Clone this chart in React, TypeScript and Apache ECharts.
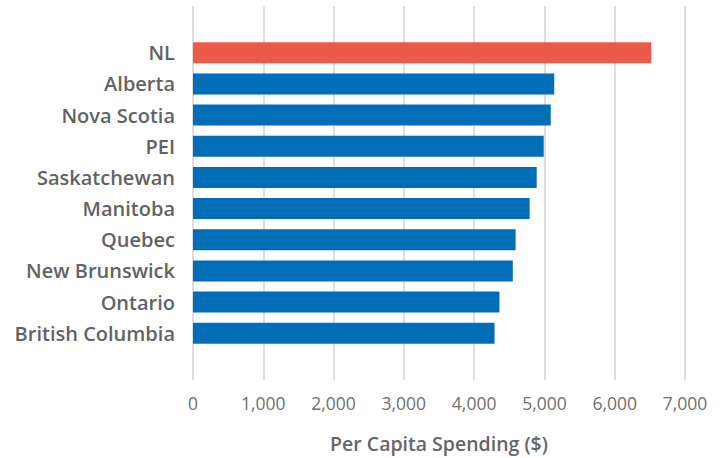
import React, { useEffect, useRef } from "react";
import * as echarts from "echarts";

const provinces = [
  "NL",
  "Alberta",
  "Nova Scotia",
  "PEI",
  "Saskatchewan",
  "Manitoba",
  "Quebec",
  "New Brunswick",
  "Ontario",
  "British Columbia",
];
const spending = [6520, 5140, 5090, 4990, 4890, 4790, 4590, 4550, 4360, 4290];
const highlight = ["NL"];
const xTicks = [0, 1000, 2000, 3000, 4000, 5000, 6000, 7000];

const RED = "#EC5A4A";
const BLUE = "#006DB7";
const FONT = "'Open Sans', sans-serif";

export default function App() {
  const ref = useRef<HTMLDivElement>(null);
  useEffect(() => {
    if (!ref.current) return;
    const chart = echarts.init(ref.current, undefined, { renderer: "svg" });
    // pad with one blank band on each side, as in the reference
    const cats = ["", ...provinces, ""];
    const vals = [
      null,
      ...spending.map((v, i) => ({
        value: v,
        itemStyle: { color: highlight.includes(provinces[i]) ? RED : BLUE },
      })),
      null,
    ];
    chart.setOption({
      animation: false,
      textStyle: { fontFamily: FONT },
      grid: { left: 193, right: 42, top: 6, bottom: 72, containLabel: false },
      xAxis: {
        type: "value",
        min: xTicks[0],
        max: xTicks[xTicks.length - 1],
        interval: 1000,
        axisLine: { show: false },
        axisTick: { show: false },
        splitLine: { show: true, lineStyle: { color: "#d3d3d3", width: 1.5 } },
        axisLabel: {
          fontFamily: FONT,
          fontSize: 17.5,
          color: "#707070",
          margin: 14,
          formatter: (v: number) => v.toLocaleString("en-US"),
        },
        name: "Per Capita Spending ($)",
        nameLocation: "middle",
        nameGap: 53,
        nameTextStyle: {
          fontFamily: FONT,
          fontSize: 19.5,
          fontWeight: 600,
          color: "#666666",
        },
      },
      yAxis: {
        type: "category",
        data: cats,
        inverse: true,
        axisLine: { show: false },
        axisTick: { show: false },
        splitLine: { show: false },
        axisLabel: {
          fontFamily: FONT,
          fontSize: 20,
          fontWeight: 600,
          color: "#636363",
          margin: 18,
        },
      },
      series: [
        {
          type: "bar",
          data: vals,
          barWidth: 21,
        },
      ],
    });
    return () => chart.dispose();
  }, []);
  return (
    <div
      ref={ref}
      style={{ position: "absolute", left: 0, top: 0, width: 727, height: 458 }}
    />
  );
}
